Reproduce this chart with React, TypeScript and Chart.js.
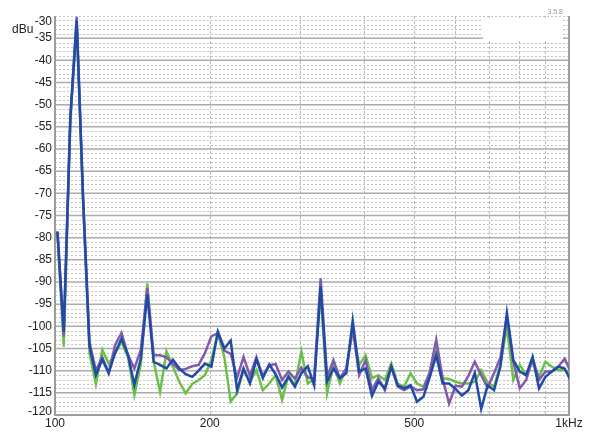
import React, { useEffect, useRef } from "react";
import { Chart, registerables } from "chart.js";

Chart.register(...registerables);

// Frequencies (Hz) of the analysis points
const freqs = [
  101.1, 104.0, 107.1, 110.2, 113.4, 116.7, 120.1, 123.6, 127.2, 130.9,
  134.7, 138.7, 142.7, 146.9, 151.2, 155.6, 160.1, 164.8, 169.6, 174.5,
  179.6, 184.9, 190.3, 195.8, 201.5, 207.4, 213.5, 219.7, 226.1, 232.7,
  239.5, 246.5, 253.7, 261.1, 268.7, 276.6, 284.6, 292.9, 301.5, 310.3,
  319.3, 328.7, 338.3, 348.1, 358.3, 368.8, 379.5, 390.6, 402.0, 413.7,
  425.8, 438.2, 451.1, 464.2, 477.8, 491.7, 506.1, 520.9, 536.1, 551.7,
  567.8, 584.4, 601.5, 619.0, 637.1, 655.7, 674.8, 694.5, 714.8, 735.6,
  757.1, 779.2, 802.0, 825.4, 849.5, 874.3, 899.8, 926.1, 953.1, 981.0,
  1009.6,
];

const greenSeries = [
  -79, -104.6, -54, -31.8, -72, -106, -113, -105.3, -108.4, -106.1,
  -103.5, -107, -115.5, -108.5, -90.3, -108, -114.8, -105.7, -109.1, -112.5,
  -115.1, -113, -112.1, -111, -107.6, -101.6, -106.9, -117, -115.1, -109.9,
  -112.5, -109.9, -114.4, -112.9, -111, -116.6, -111, -113.3, -105.7, -112.9,
  -111.9, -92, -115.1, -108.7, -112.9, -109.5, -100.8, -108.7, -106.5, -111.7,
  -111, -112.1, -108.4, -112.9, -113.6, -110.6, -112.9, -113.6, -110.6, -105.4,
  -111.7, -111.9, -112.5, -112.9, -112.9, -112.5, -109.9, -112.7, -113.6, -108.6,
  -100.1, -112.1, -108.7, -111, -108, -111.4, -108, -109.1, -109.9, -109.9,
  -110.6,
];

const purpleSeries = [
  -78.6, -102.3, -53, -30.2, -71, -103.5, -110, -107, -110.6, -104.2,
  -101.5, -106.5, -109.5, -105.3, -91.3, -106.5, -106.5, -107, -108.4, -109.9,
  -109.6, -109, -108.7, -106, -102.2, -101.6, -105.5, -106.2, -111.6, -106.9,
  -111.2, -107, -111.2, -108.8, -108.5, -112.1, -110.2, -111.8, -109.3, -111.5,
  -111.9, -89.2, -111.4, -107.6, -111.7, -109.5, -100.5, -111, -107.6, -114.4,
  -111.7, -114.4, -109.1, -113.6, -114.4, -113.6, -114.4, -114.2, -110.2, -103,
  -111.8, -117.4, -113.4, -113.6, -111.2, -108, -111, -113.8, -110.6, -107,
  -97.8, -108, -114, -112.1, -107.2, -112.1, -110.2, -110.2, -109.1, -107.3,
  -110.5,
];

const blueSeries = [
  -78.6, -101.2, -53, -31, -71, -104.5, -111, -107.5, -110.5, -106,
  -102.8, -106.5, -113.2, -107.2, -92.8, -108, -108.7, -109.5, -107.5, -109.5,
  -110.8, -111.4, -110, -108.4, -109.1, -101.2, -105, -103.2, -114.4, -109.5,
  -112.9, -107.4, -111.7, -108.6, -110.8, -113.8, -111.4, -113.6, -110.6, -109,
  -113.3, -91, -112.5, -109.5, -111.7, -110.6, -98.7, -110.2, -109.5, -115.7,
  -112.5, -114, -109.1, -113.3, -114, -113.3, -117, -115.9, -111.4, -106.5,
  -112.9, -112.9, -114.1, -115.6, -114.4, -110.5, -118.6, -113.3, -114.4, -109,
  -97, -107.6, -110.2, -111, -106.9, -114, -111.4, -110.2, -109.1, -109.5,
  -112.5,
];

const xTickValues = [100, 200, 500, 1000];
const xTickLabels = ["100", "200", "500", "1kHz"];
const xGridValues = [200, 300, 400, 500, 600, 700, 800, 900];
const yTickValues = [
  -120, -115, -110, -105, -100, -95, -90, -85, -80, -75, -70, -65, -60, -55,
  -50, -45, -40, -35, -30,
];
const yUnit = "dBu";
const versionText = "3.5.8";

const FONT = 'Arial, "Liberation Sans", Helvetica, sans-serif';

export default function App() {
  const ref = useRef<HTMLCanvasElement>(null);

  useEffect(() => {
    document.body.style.margin = "0";
    const canvas = ref.current;
    if (!canvas) return;

    const toPts = (arr: number[]) => freqs.map((f, i) => ({ x: f, y: arr[i] }));

    const gridPlugin = {
      id: "customGrid",
      beforeDatasetsDraw(chart: any) {
        const { ctx, chartArea: a, scales } = chart;
        const xs = scales.x;
        const ys = scales.y;
        ctx.save();
        // minor horizontal dotted lines every 1 dB
        ctx.lineWidth = 1;
        ctx.strokeStyle = "#c4c4c4";
        ctx.setLineDash([2, 2]);
        for (let v = -119; v <= -30; v++) {
          if (v % 5 === 0 && v !== -30) continue;
          const y = Math.round(ys.getPixelForValue(v)) + 0.5;
          ctx.beginPath();
          ctx.moveTo(a.left, y);
          ctx.lineTo(a.right, y);
          ctx.stroke();
        }
        // vertical dashed lines
        ctx.strokeStyle = "#b8b8b8";
        ctx.setLineDash([3, 2]);
        for (const f of xGridValues) {
          const x = Math.round(xs.getPixelForValue(f)) + 0.5;
          ctx.beginPath();
          ctx.moveTo(x, a.top);
          ctx.lineTo(x, a.bottom);
          ctx.stroke();
        }
        // major horizontal solid lines every 5 dB
        ctx.setLineDash([]);
        ctx.strokeStyle = "#acacac";
        ctx.lineWidth = 1.5;
        for (let v = -115; v <= -35; v += 5) {
          const y = ys.getPixelForValue(v);
          ctx.beginPath();
          ctx.moveTo(a.left, y);
          ctx.lineTo(a.right, y);
          ctx.stroke();
        }
        // frame
        ctx.strokeStyle = "#9c9c9c";
        ctx.lineWidth = 2;
        ctx.beginPath();
        ctx.moveTo(a.left, a.top);
        ctx.lineTo(a.left, a.bottom);
        ctx.lineTo(a.right, a.bottom);
        ctx.lineTo(a.right, a.top);
        ctx.stroke();
        ctx.restore();
      },
      afterDraw(chart: any) {
        const { ctx, chartArea: a } = chart;
        ctx.save();
        // erased legend box
        ctx.fillStyle = "#ffffff";
        ctx.fillRect(a.right - 86, a.top + 2, 80, 22);
        ctx.fillStyle = "#222";
        ctx.font = `12px ${FONT}`;
        ctx.textAlign = "left";
        ctx.textBaseline = "middle";
        ctx.fillText(yUnit, 12, 30);
        ctx.fillStyle = "#999";
        ctx.font = `7px ${FONT}`;
        ctx.textAlign = "right";
        ctx.fillText(versionText, a.right - 6, 12);
        ctx.restore();
      },
    };

    const common = { borderWidth: 2.5, pointRadius: 0, tension: 0 };

    const chart = new Chart(canvas, {
      type: "line",
      data: {
        datasets: [
          { label: "blue", data: toPts(blueSeries), borderColor: "#1f4aa8", ...common },
          { label: "purple", data: toPts(purpleSeries), borderColor: "#8259ac", ...common },
          { label: "green", data: toPts(greenSeries), borderColor: "#6cc04a", ...common },
        ],
      },
      options: {
        animation: false,
        responsive: false,
        devicePixelRatio: 1,
        layout: { padding: { top: 16, right: 31, left: 0, bottom: 0 } },
        plugins: { legend: { display: false }, tooltip: { enabled: false } },
        scales: {
          x: {
            type: "logarithmic",
            min: 100,
            max: 1000,
            afterBuildTicks: (s: any) => {
              s.ticks = xTickValues.map((v) => ({ value: v }));
            },
            afterFit: (s: any) => {
              s.height = 28;
            },
            grid: { display: false, drawTicks: false },
            border: { display: false },
            ticks: {
              autoSkip: false,
              maxRotation: 0,
              padding: 1,
              color: "#222",
              font: { family: FONT, size: 12 },
              callback: (_v: any, i: number) => xTickLabels[i],
            },
          },
          y: {
            type: "linear",
            min: -120,
            max: -30,
            afterBuildTicks: (s: any) => {
              s.ticks = yTickValues.map((v) => ({ value: v }));
            },
            afterFit: (s: any) => {
              s.width = 55;
            },
            grid: { display: false, drawTicks: false },
            border: { display: false },
            ticks: {
              autoSkip: false,
              padding: 3,
              color: "#222",
              font: (c: any) => {
                const v = c.tick ? c.tick.value : 0;
                return {
                  family: FONT,
                  size: 12,
                  lineHeight: v === -30 ? 1.0 : v === -120 ? 0.55 : 1.2,
                };
              },
              callback: (v: any) =>
                v === -30 ? ["", String(v)] : v === -120 ? [String(v), ""] : String(v),
            },
          },
        },
      },
      plugins: [gridPlugin],
    } as any);

    return () => chart.destroy();
  }, []);

  return (
    <canvas
      ref={ref}
      width={600}
      height={443}
      style={{ display: "block", width: 600, height: 443 }}
    />
  );
}
